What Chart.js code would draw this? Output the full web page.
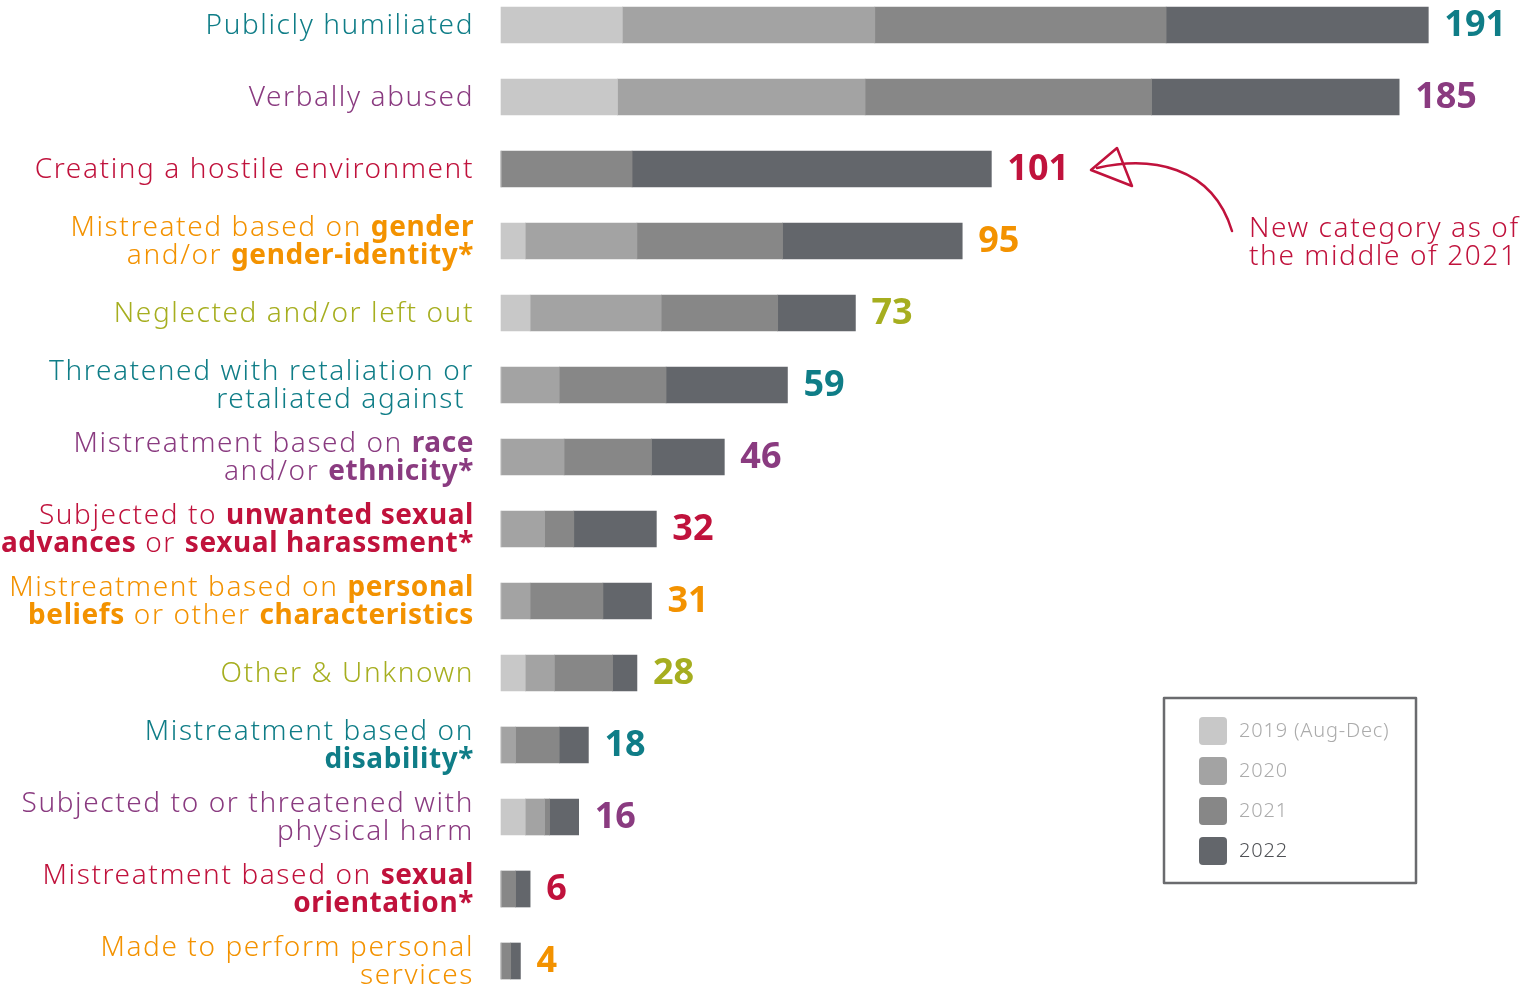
<!DOCTYPE html>
<html>
<head>
<meta charset="utf-8">
<script src="https://cdn.jsdelivr.net/npm/chart.js@4"></script>
<style>
  html, body { margin: 0; padding: 0; background: #fff; }
  #wrap { width: 1534px; height: 990px; }
</style>
</head>
<body>
<div id="wrap"><canvas id="chart" width="1534" height="990"></canvas></div>
<script>
// {braces} mark bold words, \n splits lines
const categories = [
    'Publicly humiliated',
    'Verbally abused',
    'Creating a hostile environment',
    'Mistreated based on {gender}\nand/or {gender-identity*}',
    'Neglected and/or left out',
    'Threatened with retaliation or\nretaliated against ',
    'Mistreatment based on {race}\nand/or {ethnicity*}',
    'Subjected to {unwanted sexual}\n{advances} or {sexual harassment*}',
    'Mistreatment based on {personal}\n{beliefs} or other {characteristics}',
    'Other & Unknown',
    'Mistreatment based on\n{disability*}',
    'Subjected to or threatened with\nphysical harm',
    'Mistreatment based on {sexual}\n{orientation*}',
    'Made to perform personal\nservices'
];

const y2019 = [25, 24, 0, 5, 6, 0, 0, 0, 0, 5, 0, 5, 0, 0];
const y2020 = [52, 51, 0, 23, 27, 12, 13, 9, 6, 6, 3, 4, 0, 0];
const y2021 = [60, 59, 27, 30, 24, 22, 18, 6, 15, 12, 9, 1, 3, 2];
const y2022 = [54, 51, 74, 37, 16, 25, 15, 17, 10, 5, 6, 6, 3, 2];

const seriesNames = ['2019 (Aug-Dec)', '2020', '2021', '2022'];
const seriesColors = ['#c8c8c8', '#a3a3a3', '#878787', '#63666b'];
const legendTextColors = ['#ababab', '#ababab', '#ababab', '#4f5155'];

const teal = '#0f7d87', purple = '#8a3b80', red = '#c0123c', orange = '#f39200', olive = '#a6ae1f';
const labelColors = [teal, purple, red, orange, olive, teal, purple, red, orange, olive, teal, purple, red, orange];

const note = ['New category as of', 'the middle of 2021'];

const FONT = '"Noto Sans", "Open Sans", sans-serif';

function setFont(ctx, bold, size) {
    ctx.font = (bold ? '700 ' : '300 ') + size + 'px ' + FONT;
    ctx.letterSpacing = bold ? '0.6px' : '1.6px';
}

function drawRich(ctx, line, right, y, color, size) {
    var parts = [];
    line.split(/(\{[^}]*\})/).forEach((p) => {
        if (!p) return;
        if (p[0] === '{') parts.push({ t: p.slice(1, -1), b: true });
        else parts.push({ t: p, b: false });
    });
    var total = 0;
    parts.forEach((p) => {
        setFont(ctx, p.b, size);
        p.w = ctx.measureText(p.t).width;
        total += p.w;
    });
    var x = right - total;
    ctx.fillStyle = color;
    ctx.textAlign = 'left';
    ctx.textBaseline = 'middle';
    parts.forEach((p) => {
        setFont(ctx, p.b, size);
        ctx.fillText(p.t, x, y);
        x += p.w;
    });
}

const decorations = {
    id: 'decorations',
    afterDatasetsDraw(chart) {
        var ctx = chart.ctx;
        var yScale = chart.scales.y;
        var last = chart.getDatasetMeta(chart.data.datasets.length - 1);
        ctx.save();

        // category labels
        categories.forEach((cat, i) => {
            var cy = yScale.getPixelForValue(i);
            var lines = cat.split('\n');
            lines.forEach((line, j) => {
                var ly = cy + 1 + (j - (lines.length - 1) / 2) * 28;
                drawRich(ctx, line, 474, ly, labelColors[i], 28);
            });
        });

        // totals
        ctx.letterSpacing = '0px';
        categories.forEach((cat, i) => {
            var total = chart.data.datasets.reduce((s, d) => s + d.data[i], 0);
            var bar = last.data[i];
            ctx.font = '700 36px ' + FONT;
            ctx.fillStyle = labelColors[i];
            ctx.textAlign = 'left';
            ctx.textBaseline = 'middle';
            ctx.fillText(String(total), bar.x + 16, bar.y + 1);
        });

        // annotation arrow
        ctx.strokeStyle = red;
        ctx.lineWidth = 2.5;
        ctx.lineCap = 'round';
        ctx.lineJoin = 'round';
        ctx.beginPath();
        ctx.moveTo(1097, 168);
        ctx.bezierCurveTo(1150, 156, 1212, 165, 1232, 231);
        ctx.stroke();
        ctx.beginPath();
        ctx.moveTo(1091, 170);
        ctx.lineTo(1117, 148);
        ctx.lineTo(1132, 186);
        ctx.closePath();
        ctx.stroke();

        ctx.fillStyle = red;
        setFont(ctx, false, 28);
        ctx.textAlign = 'left';
        ctx.textBaseline = 'middle';
        note.forEach((t, j) => ctx.fillText(t, 1249, 229 + j * 28));

        // legend box
        ctx.strokeStyle = '#6a6b6e';
        ctx.lineWidth = 2.5;
        ctx.strokeRect(1164, 698, 252, 185);
        chart.data.datasets.forEach((d, k) => {
            var ly = 731 + k * 40;
            ctx.fillStyle = d.backgroundColor;
            ctx.beginPath();
            ctx.roundRect(1199, ly - 14, 28, 28, 4);
            ctx.fill();
            ctx.fillStyle = legendTextColors[k];
            ctx.font = '300 20px ' + FONT;
            ctx.letterSpacing = '0.8px';
            ctx.fillText(d.label, 1239, ly);
        });

        ctx.restore();
    }
};

var ctx = document.getElementById('chart').getContext('2d');
var chart = new Chart(ctx, {
    type: 'bar',
    data: {
        labels: categories,
        datasets: [y2019, y2020, y2021, y2022].map((vals, k) => ({
            label: seriesNames[k],
            data: vals,
            backgroundColor: seriesColors[k],
            borderWidth: 0,
            barThickness: 36,
            clip: false
        }))
    },
    options: {
        indexAxis: 'y',
        responsive: false,
        animation: false,
        layout: { padding: { left: 501, right: 62, top: 25, bottom: 29 } },
        scales: {
            x: { stacked: true, min: 0, max: 200, display: false },
            y: { stacked: true, offset: false, display: false, grid: { offset: false } }
        },
        plugins: {
            legend: { display: false },
            tooltip: { enabled: false }
        }
    },
    plugins: [decorations]
});
</script>
</body>
</html>
